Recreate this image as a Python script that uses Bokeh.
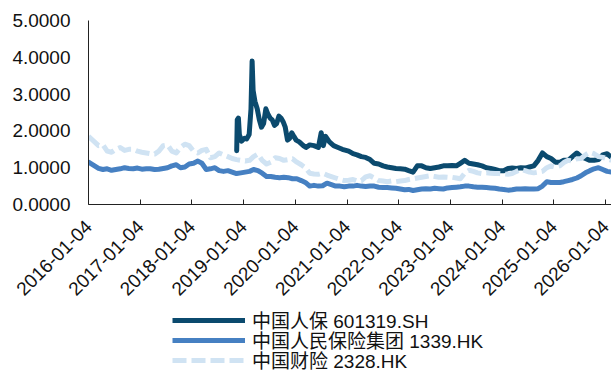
import pandas as pd
from bokeh.plotting import figure
from bokeh.layouts import column
from bokeh.models import Legend, LegendItem, FixedTicker, CustomJSTickFormatter, NumeralTickFormatter, Range1d
from bokeh.embed import file_html
from bokeh.resources import INLINE

# ---------------- data ----------------
tick_labels = ["2016-01-04", "2017-01-04", "2018-01-04", "2019-01-04", "2020-01-04",
               "2021-01-04", "2022-01-04", "2023-01-04", "2024-01-04", "2025-01-04", "2026-01-04"]

# monthly dates shared by 1339.HK and 2328.HK (2016-01 .. 2026-02)
month_dates = ["2016-01-04"] + [d.strftime("%Y-%m-%d") for d in pd.date_range("2016-02-15", "2026-02-15", freq="MS") + pd.Timedelta(days=14)]

picc_group = [  # 中国人民保险集团 1339.HK
    1.15, 0.98, 0.95, 0.97, 0.93, 0.95, 0.97, 1.00, 0.98, 0.97, 0.99, 0.96,
    0.97, 0.97, 0.95, 0.96, 0.98, 1.00, 1.05, 1.08, 1.00, 1.02, 1.10, 1.12,
    1.18, 1.12, 0.95, 0.97, 1.00, 0.92, 0.90, 0.92, 0.88, 0.84, 0.86, 0.88,
    0.90, 0.95, 0.92, 0.85, 0.76, 0.76, 0.74, 0.73, 0.74, 0.73, 0.70, 0.70,
    0.65, 0.60, 0.50, 0.52, 0.50, 0.51, 0.58, 0.54, 0.50, 0.50, 0.48, 0.50,
    0.50, 0.52, 0.50, 0.49, 0.50, 0.50, 0.47, 0.46, 0.46, 0.45, 0.44, 0.42,
    0.40, 0.41, 0.38, 0.40, 0.42, 0.43, 0.42, 0.44, 0.43, 0.42, 0.45, 0.46,
    0.47, 0.48, 0.50, 0.50, 0.48, 0.47, 0.47, 0.46, 0.45, 0.44, 0.42, 0.41,
    0.39, 0.40, 0.42, 0.42, 0.43, 0.42, 0.42, 0.43, 0.50, 0.62, 0.60, 0.60,
    0.60, 0.62, 0.65, 0.68, 0.72, 0.78, 0.86, 0.92, 0.97, 1.00, 0.95, 0.90,
    0.88, 0.82,
]

picc_pc = [  # 中国财险 2328.HK
    1.85, 1.60, 1.62, 1.45, 1.42, 1.50, 1.55, 1.47, 1.50, 1.50, 1.45, 1.42,
    1.40, 1.38, 1.37, 1.45, 1.60, 1.62, 1.45, 1.40, 1.55, 1.64, 1.60, 1.45,
    1.40, 1.47, 1.50, 1.27, 1.30, 1.40, 1.35, 1.30, 1.25, 1.22, 1.20, 1.18,
    1.20, 1.30, 1.37, 1.20, 1.10, 1.15, 1.27, 1.25, 1.20, 1.22, 1.24, 1.15,
    1.08, 1.00, 0.85, 0.83, 0.82, 0.85, 0.80, 0.76, 0.72, 0.68, 0.65, 0.66,
    0.68, 0.64, 0.65, 0.75, 0.78, 0.72, 0.65, 0.64, 0.62, 0.64, 0.62, 0.64,
    0.65, 0.68, 0.70, 0.72, 0.74, 0.76, 0.78, 0.76, 0.74, 0.75, 0.74, 0.74,
    0.72, 0.70, 0.85, 0.93, 0.90, 0.86, 0.84, 0.86, 0.85, 0.84, 0.84, 0.83,
    0.82, 0.84, 0.90, 0.95, 0.92, 0.88, 0.86, 0.88, 0.90, 1.00, 1.05, 1.02,
    1.05, 1.14, 1.20, 1.18, 1.24, 1.25, 1.35, 1.42, 1.38, 1.30, 1.28, 1.25,
    1.20, 1.15,
]

# 中国人保 601319.SH (listed Nov 2018)
picc_a_dates = [
    "2018-11-16", "2018-11-20", "2018-11-28", "2018-12-05", "2018-12-20",
    "2019-01-10", "2019-01-25", "2019-02-12", "2019-02-25", "2019-03-05",
    "2019-03-12", "2019-03-25", "2019-04-10", "2019-04-25", "2019-05-10",
    "2019-05-25", "2019-06-10", "2019-06-25", "2019-07-10", "2019-07-25",
    "2019-08-10", "2019-08-25", "2019-09-10", "2019-09-25", "2019-10-10",
    "2019-10-25", "2019-11-10", "2019-11-25", "2019-12-10", "2019-12-25",
    "2020-01-10", "2020-02-01", "2020-03-01", "2020-03-20", "2020-04-15",
    "2020-05-15", "2020-06-15", "2020-07-05", "2020-07-20", "2020-08-05",
    "2020-09-01", "2020-10-01", "2020-11-01", "2020-12-01",
    "2021-01-15", "2021-02-15", "2021-03-15", "2021-04-15", "2021-05-15", "2021-06-15",
    "2021-07-15", "2021-08-15", "2021-09-15", "2021-10-15", "2021-11-15", "2021-12-15",
    "2022-01-15", "2022-02-15", "2022-03-15", "2022-04-15", "2022-05-15", "2022-06-15",
    "2022-07-15", "2022-08-15", "2022-09-15", "2022-10-15", "2022-11-15", "2022-12-15",
    "2023-01-15", "2023-02-15", "2023-03-15", "2023-04-15", "2023-05-15", "2023-06-15",
    "2023-07-15", "2023-08-15", "2023-09-15", "2023-10-15", "2023-11-15", "2023-12-15",
    "2024-01-15", "2024-02-15", "2024-03-15", "2024-04-15", "2024-05-15", "2024-06-15",
    "2024-07-15", "2024-08-15", "2024-09-15", "2024-10-15", "2024-11-15", "2024-12-15",
    "2025-01-15", "2025-02-15", "2025-03-15", "2025-04-15", "2025-05-15", "2025-06-15",
    "2025-07-15", "2025-08-15", "2025-09-15", "2025-10-15", "2025-11-15", "2025-12-15",
    "2026-01-15", "2026-02-15",
]
picc_a = [
    1.46, 2.30, 2.35, 1.90, 1.72,
    1.80, 1.78, 1.90, 2.60, 3.90,
    3.10, 2.80, 2.60, 2.30, 2.10,
    2.20, 2.60, 2.45, 2.35, 2.30,
    2.15, 2.20, 2.40, 2.35, 2.25,
    2.10, 1.75, 1.80, 1.95, 1.85,
    1.75, 1.70, 1.60, 1.55, 1.62,
    1.60, 1.55, 1.95, 1.60, 1.85,
    1.70, 1.60, 1.55, 1.50,
    1.45, 1.38, 1.35, 1.30, 1.28, 1.22, 1.12, 1.10, 1.05, 1.02, 1.00, 0.98,
    0.97, 0.96, 0.92, 0.88, 1.05, 1.05, 1.00, 0.98, 1.00, 1.02, 1.05, 1.05,
    1.06, 1.05, 1.12, 1.20, 1.12, 1.10, 1.08, 1.05, 1.00, 0.98, 0.95, 0.92,
    0.92, 0.98, 0.99, 0.98, 1.00, 0.99, 1.02, 1.05, 1.20, 1.40, 1.30, 1.25,
    1.15, 1.15, 1.20, 1.20, 1.30, 1.40, 1.30, 1.25, 1.20, 1.20, 1.22, 1.35,
    1.38, 1.28,
]

series_names = ["中国人保 601319.SH", "中国人民保险集团 1339.HK", "中国财险 2328.HK"]
series_colors = ["#0B4A6E", "#4680C2", "#D0E3F3"]
series_dash = ["solid", "solid", "14 5"]
y_ticks = [0, 1, 2, 3, 4, 5]

# ---------------- figure ----------------
FONT = "Liberation Sans, Arial, Noto Sans CJK SC, sans-serif"
FS = "19px"

mdates = pd.to_datetime(month_dates)
adates = pd.to_datetime(picc_a_dates)
tick_dates = pd.to_datetime(tick_labels)
series_x = [adates, mdates, mdates]
series_y = [picc_a, picc_group, picc_pc]

p = figure(width=611, height=308, x_axis_type="datetime", output_backend="svg",
           toolbar_location=None, min_border_left=88, min_border_right=0,
           min_border_top=20, min_border_bottom=104,
           background_fill_color="white", border_fill_color="white")
p.x_range = Range1d(mdates[0], mdates[-1])
p.y_range = Range1d(0, 5)
p.outline_line_color = None
p.xgrid.grid_line_color = None
p.ygrid.grid_line_color = None

for xs, ys, col, dash in zip(series_x, series_y, series_colors, series_dash):
    p.line(xs, ys, line_color=col, line_width=5, line_dash=dash,
           line_join="round", line_cap="round" if dash == "solid" else "butt")

# x axis
xa = p.xaxis[0]
xa.ticker = FixedTicker(ticks=[d.value / 1e6 for d in tick_dates])
xa.formatter = CustomJSTickFormatter(code="""
const d = new Date(tick);
const m = String(d.getUTCMonth()+1).padStart(2,'0');
const dd = String(d.getUTCDate()).padStart(2,'0');
return d.getUTCFullYear() + '-' + m + '-' + dd;
""")
xa.major_label_orientation = 0.785398
xa.major_tick_in = 5
xa.major_tick_out = 0
xa.minor_tick_in = 0
xa.minor_tick_out = 0
xa.axis_line_color = "#222222"
xa.major_tick_line_color = "#222222"
xa.major_label_text_font = FONT
xa.major_label_text_font_size = FS
xa.major_label_text_color = "#111111"
xa.major_label_standoff = 19

ya = p.yaxis[0]
ya.ticker = FixedTicker(ticks=y_ticks)
ya.formatter = NumeralTickFormatter(format="0.0000")
ya.major_tick_in = 0
ya.major_tick_out = 0
ya.minor_tick_in = 0
ya.minor_tick_out = 0
ya.axis_line_color = "#222222"
ya.major_label_text_font = FONT
ya.major_label_text_font_size = FS
ya.major_label_text_color = "#111111"
ya.major_label_standoff = 18

# ---------------- legend (separate strip below, same frame alignment) ----------------
lg = figure(width=611, height=63, output_backend="svg", toolbar_location=None,
            min_border_left=88, min_border_right=0, min_border_top=0, min_border_bottom=0,
            x_range=Range1d(0, 1), y_range=Range1d(0, 1),
            background_fill_color="white", border_fill_color="white")
lg.axis.visible = False
lg.grid.visible = False
lg.outline_line_color = None

# one single-row legend per series, stacked 20px apart
legend_y = [38, 18, -2]
for name, xs, ys, col, dash, ly in zip(series_names, series_x, series_y, series_colors, series_dash, legend_y):
    # same series, but outside this strip's ranges, so only the legend glyph is seen
    r = lg.line(xs, ys, line_color=col, line_width=5, line_dash=dash)
    leg = Legend(items=[LegendItem(label=name, renderers=[r])], location=(84, ly))
    leg.label_text_font = FONT
    leg.label_text_font_size = FS
    leg.label_text_color = "#111111"
    leg.glyph_width = 73
    leg.glyph_height = 20
    leg.label_height = 20
    leg.label_standoff = 7
    leg.spacing = 0
    leg.padding = 0
    leg.margin = 0
    leg.border_line_color = None
    leg.background_fill_alpha = 0
    lg.add_layout(leg)

layout = column(p, lg, spacing=0)
open("out.html", "w").write(file_html(layout, INLINE))
